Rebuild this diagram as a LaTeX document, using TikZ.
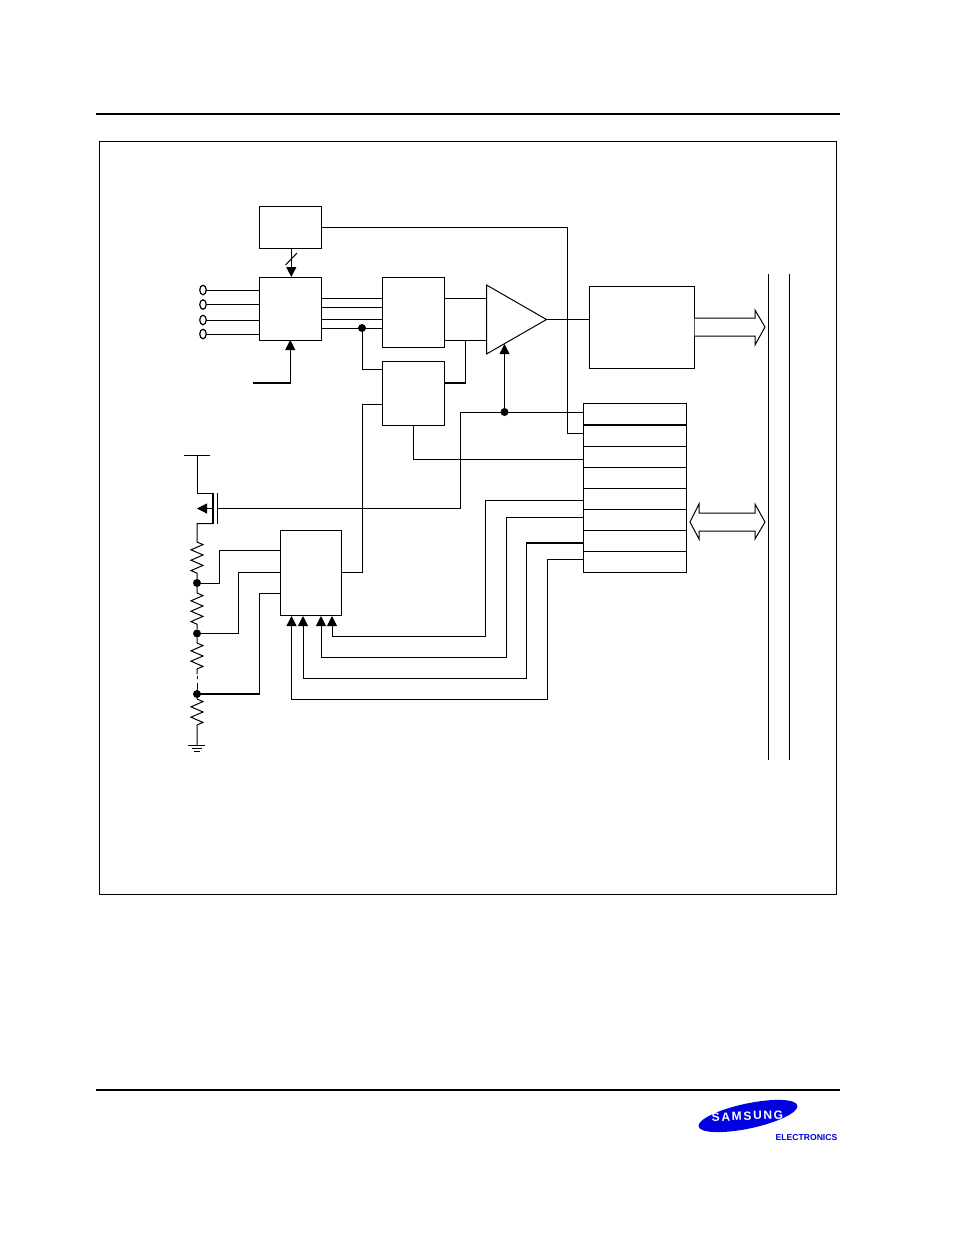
\documentclass[tikz,border=0pt]{standalone}
\usepackage{fontspec}
\usetikzlibrary{arrows.meta,shapes.geometric,decorations.pathmorphing}
\newfontfamily\logofont[LetterSpace=14]{Liberation Sans}
\newfontfamily\logosmall{Liberation Sans}
\definecolor{logoblue}{RGB}{0,0,225}
\tikzset{
    wire/.style={line width=1pt},
    thickwire/.style={line width=1.9pt},
    rule/.style={line width=1.8pt},
    blockbox/.style={draw, line width=1pt, fill=white, inner sep=0pt, outer sep=0pt},
    pinhole/.style={draw, ellipse, line width=1.2pt, inner sep=0pt, outer sep=0pt, minimum width=6.5pt, minimum height=9.5pt},
    wiredot/.style={circle, fill, inner sep=0pt, minimum size=8pt},
    tipped/.style={wire, -{Triangle[length=10pt,width=10pt]}},
    resistor/.style={decoration={zigzag, segment length=10.4pt, amplitude=6pt}}
}
\begin{document}
\begin{tikzpicture}[x=1pt, y=-1pt]
        \useasboundingbox (0,0) rectangle (954,1235);
        \draw [rule] (96,114) to (840,114);
        \draw [rule] (96,1090) to (840,1090);
        \draw [wire] (99,141) rectangle (836,894);

        \node [blockbox, minimum width=62.5pt, minimum height=42pt] (ctlreg) at (290.25,227) {};
        \node [blockbox, minimum width=62.5pt, minimum height=63pt] (mux) at (290.25,308.5) {};
        \node [blockbox, minimum width=62pt, minimum height=70pt] (samplehold) at (413,312) {};
        \node [blockbox, minimum width=62pt, minimum height=64pt] (dacblock) at (413,393) {};
        \node [blockbox, minimum width=105pt, minimum height=82pt] (outreg) at (641.5,327) {};
        \node [blockbox, minimum width=61.5pt, minimum height=85pt] (decoder) at (310.75,572.5) {};
        \node [draw, line width=1pt, isosceles triangle, isosceles triangle stretches, inner sep=0pt, outer sep=0pt, minimum height=60pt, minimum width=69pt, anchor=apex] (comp) at (546.5,319.5) {};
        \foreach \r/\ry/\rh in {1/414/22, 2/435.5/21, 3/456.5/21, 4/477.5/21, 5/498.5/21, 6/519.5/21, 7/540.5/21, 8/561.5/21}
            \node [blockbox, minimum width=103pt, minimum height=\rh pt] (row\r) at (634.5,\ry) {};
        \draw [thickwire] (row1.south west) to (row1.south east);

        \draw [wire] (768.5,274) to (768.5,760);
        \draw [wire] (789.5,274) to (789.5,760);

        \foreach \p/\py in {1/290, 2/304.5, 3/320, 4/334} {
            \node [pinhole] (pin\p) at (203,\py) {};
            \draw [wire] (pin\p.east) to (mux.west |- pin\p);
        }
        \foreach \wy in {298, 307, 319, 328}
            \draw [wire] (mux.east |- 0,\wy) to (samplehold.west |- 0,\wy);
        \draw [tipped] (ctlreg.south -| 291.3,0) to (mux.north -| 291.3,0);
        \draw [wire] (285.5,265) to (297,253);
        \coordinate (startin) at (253,383);
        \draw [thickwire] (startin) to (291,383);
        \draw [tipped] (290.25,383) to (mux.south);

        \node [wiredot] (muxdot) at (362,328) {};
        \draw [wire] (muxdot) to (362,369.5) to (dacblock.west |- 0,369.5);
        \draw [wire] (samplehold.east |- 0,298) to (comp.lower side |- 0,298);
        \draw [wire] (samplehold.east |- 0,340.5) to (comp.lower side |- 0,340.5);
        \draw [wire] (465,340.5) to (465,383);
        \draw [thickwire] (dacblock.east |- 0,383) to (465.5,383);
        \draw [wire] (comp.apex) to (outreg.west |- comp.apex);

        \draw [wire] (ctlreg.east) to (567.5,227) to (567.5,433) to (row2.west |- 0,433);
        \node [wiredot] (compdot) at (504.5,412) {};
        \draw [wire] (row1.west |- compdot) to (460.5,412) to (460.5,508.5) to (217.5,508.5);
        \draw [tipped] (compdot) to (504.5,344);
        \draw [wire] (dacblock.south) to (413,459.5) to (row3.west |- 0,459.5);
        \draw [wire] (dacblock.west |- 0,404) to (362,404) to (362,572.5) to (decoder.east |- 0,572.5);

        \draw [wire] (row5.west |- 0,500.5) to (485.5,500.5) to (485.5,636) to (332,636);
        \draw [tipped] (332,636) to (332,616);
        \draw [wire] (row6.west |- 0,517) to (506.5,517) to (506.5,657) to (321,657);
        \draw [tipped] (321,657) to (321,616);
        \draw [thickwire] (row7.west |- 0,543) to (526,543);
        \draw [wire] (526.5,543) to (526.5,678.5) to (303,678.5);
        \draw [tipped] (303,678.5) to (303,616);
        \draw [wire] (row8.west |- 0,559) to (547.5,559) to (547.5,699.5) to (291.5,699.5);
        \draw [tipped] (291.5,699.5) to (291.5,616);

        \draw [wire, fill=white] (694.5,318) to (755,318) to (755,310) to (765,327) to (755,345) to (755,336) to (694.5,336);
        \draw [wire, fill=white] (690,522) to (699,504) to (699,513) to (755,513) to (755,504) to (765,522) to (755,539) to (755,531) to (699,531) to (699,539) to cycle;

        \draw [wire] (184,455) to (210,455);
        \draw [wire] (197,455) to (197,493.5) to (213,493.5);
        \draw [line width=1.2pt] (213,493) to (213,523.5);
        \draw [line width=1.2pt] (217.5,493) to (217.5,523.5);
        \draw [tipped] (213,508.5) to (197,508.5);

        \node [wiredot] (tapa) at (197,583) {};
        \node [wiredot] (tapb) at (197,633.5) {};
        \node [wiredot] (tapc) at (197,694) {};
        \draw [wire] (213,523.5) to (197,523.5) to (197,542) decorate[resistor]{to (197,574)} to (tapa);
        \draw [wire] (tapa) to (197,593) decorate[resistor]{to (197,625)} to (tapb);
        \draw [wire] (tapb) to (197,643) decorate[resistor]{to (197,674)};
        \draw [wire] (197,676) to (197,679);
        \draw [wire] (197,683) to (tapc);
        \draw [wire] (tapc) to (197,699) decorate[resistor]{to (197,730)} to (197,745.5);
        \draw [wire] (188,745.5) to (205,745.5);
        \draw [line width=0.8pt] (191.5,748.5) to (202,748.5);
        \draw [line width=0.8pt] (194,751) to (199.5,751);

        \draw [wire] (decoder.west |- 0,550) to (219,550) to (219,583) to (tapa);
        \draw [wire] (decoder.west |- 0,572.5) to (238.5,572.5) to (238.5,633.5) to (tapb);
        \draw [wire] (decoder.west |- 0,593.5) to (259.5,593.5) to (259.5,694);
        \draw [thickwire] (260,694) to (tapc.center);

        \node [fill=logoblue, ellipse, rotate=12, inner sep=0pt, minimum width=101pt, minimum height=25pt] (logo) at (748,1116) {};
        \node [text=white, font=\logofont\bfseries\fontsize{12}{12}\selectfont, inner sep=0pt, rotate=2] (logoname) at (747.5,1116) {SAMSUNG};
        \node [text=logoblue, font=\logosmall\bfseries\fontsize{8.6}{8.6}\selectfont, inner sep=0pt] (logosub) at (806.5,1138) {ELECTRONICS};
    \end{tikzpicture}
\end{document}
